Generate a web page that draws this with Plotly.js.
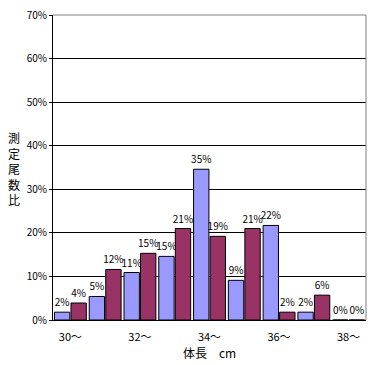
<!DOCTYPE html>
<html>
<head>
<meta charset="utf-8">
<script src="https://cdn.plot.ly/plotly-3.0.1.min.js"></script>
<style>body{margin:0;padding:0;background:#fff}#chart{width:372px;height:365px}</style>
</head>
<body>
<div id="chart"></div>
<script>
const categories = ["30〜","31〜","32〜","33〜","34〜","35〜","36〜","37〜","38〜"];
const tickLabels = ["30〜","32〜","34〜","36〜","38〜"];
const tickCats = ["30〜","32〜","34〜","36〜","38〜"];
const seriesA = [1.8, 5.4, 10.9, 14.6, 34.6, 9.1, 21.7, 1.8, 0];
const seriesB = [3.9, 11.6, 15.3, 21.0, 19.2, 21.0, 1.8, 5.7, 0];
const yTickVals = [0,10,20,30,40,50,60,70];
const yTitleChars = ["測","定","尾","数","比"];

const FONT = "'Noto Sans CJK JP', 'Liberation Sans', sans-serif";
function lbl(arr){ return arr.map(v => Math.round(v) + "%"); }

const common = {
  type: "bar", x: categories,
  textposition: "outside", cliponaxis: false, constraintext: "none",
  textfont: {family: FONT, size: 10, color: "#000"},
  hoverinfo: "skip"
};
const traces = [
  Object.assign({}, common, {y: seriesA, text: lbl(seriesA), marker: {color: "#9999FF", line: {color: "#000", width: 1}}}),
  Object.assign({}, common, {y: seriesB, text: lbl(seriesB), marker: {color: "#993366", line: {color: "#000", width: 1}}})
];

const layout = {
  width: 372, height: 365,
  margin: {l: 53, r: 6, t: 15, b: 45, pad: 0},
  paper_bgcolor: "#fff", plot_bgcolor: "#fff",
  showlegend: false,
  barmode: "group", bargap: 0.05, bargroupgap: 0.07,
  font: {family: FONT, size: 10, color: "#000"},
  xaxis: {
    type: "category", categoryorder: "array", categoryarray: categories,
    tickmode: "array", tickvals: tickCats, ticktext: tickLabels,
    showline: true, linecolor: "#000", linewidth: 1,
    ticks: "", showgrid: false, zeroline: false, automargin: false,
    ticklabelstandoff: 7,
    tickfont: {family: FONT, size: 11, color: "#000"},
    title: {text: "体長　cm", font: {family: FONT, size: 12, color: "#000"}, standoff: 0}
  },
  yaxis: {
    range: [0, 70], tickmode: "array", tickvals: yTickVals,
    ticktext: yTickVals.map(v => v + "%"),
    showline: true, linecolor: "#000", linewidth: 1,
    ticks: "outside", ticklen: 3, tickcolor: "#000",
    showgrid: true, gridcolor: "#000", gridwidth: 1, zeroline: false,
    tickfont: {family: FONT, size: 10, color: "#000"}
  },
  shapes: [
    {type: "line", xref: "paper", yref: "paper", x0: 0, x1: 1, y0: 1, y1: 1, line: {color: "#808080", width: 1}, layer: "above"},
    {type: "line", xref: "paper", yref: "paper", x0: 1, x1: 1, y0: 0, y1: 1, line: {color: "#808080", width: 1}, layer: "above"}
  ],
  annotations: [
    {text: yTitleChars.join("<br>"), xref: "paper", yref: "paper", x: -0.125, y: (320 - 168) / 305,
     xanchor: "center", yanchor: "middle", showarrow: false,
     font: {family: FONT, size: 12, color: "#000"}}
  ]
};
Plotly.newPlot("chart", traces, layout, {staticPlot: true, displayModeBar: false});
</script>
</body>
</html>
